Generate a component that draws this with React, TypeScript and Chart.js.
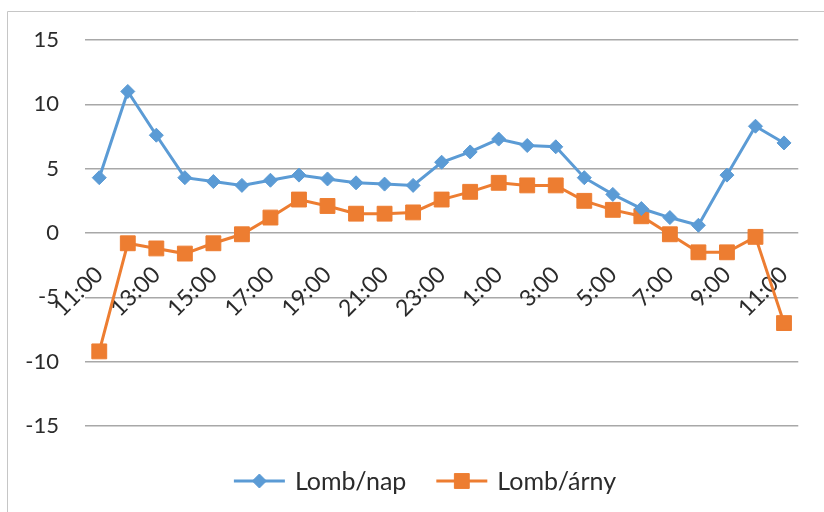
import React, { useEffect, useRef } from "react";
import { Chart, registerables } from "chart.js";

Chart.register(...registerables);

// Hourly readings, 11:00 through 11:00 the next day
const hours: string[] = [
  "11:00", "12:00", "13:00", "14:00", "15:00", "16:00", "17:00", "18:00",
  "19:00", "20:00", "21:00", "22:00", "23:00", "0:00", "1:00", "2:00",
  "3:00", "4:00", "5:00", "6:00", "7:00", "8:00", "9:00", "10:00", "11:00",
];

const lombNap: number[] = [
  4.3, 11.0, 7.6, 4.3, 4.0, 3.7, 4.1, 4.5, 4.2, 3.9, 3.8, 3.7, 5.5,
  6.3, 7.3, 6.8, 6.7, 4.3, 3.0, 1.9, 1.2, 0.6, 4.5, 8.3, 7.0,
];

const lombArny: number[] = [
  -9.2, -0.8, -1.2, -1.6, -0.8, -0.1, 1.2, 2.6, 2.1, 1.5, 1.5, 1.6, 2.6,
  3.2, 3.9, 3.7, 3.7, 2.5, 1.8, 1.3, -0.1, -1.5, -1.5, -0.3, -7.0,
];

const yTicks: number[] = [-15, -10, -5, 0, 5, 10, 15];

const FONT = "Lato, 'Open Sans', sans-serif";
const TEXT = "#2b2b2b";

// Outer frame of the chart
const framePlugin = {
  id: "frame",
  beforeDraw(chart: any) {
    const { ctx } = chart;
    ctx.save();
    ctx.fillStyle = "#ffffff";
    ctx.fillRect(0, 0, chart.width, chart.height);
    ctx.strokeStyle = "#c6c6c6";
    ctx.lineWidth = 1;
    ctx.beginPath();
    ctx.moveTo(7.5, chart.height + 2);
    ctx.lineTo(7.5, 11.5);
    ctx.lineTo(chart.width + 2, 11.5);
    ctx.stroke();
    ctx.restore();
  },
};

function drawMarker(ctx: CanvasRenderingContext2D, style: string, r: number, x: number, y: number) {
  ctx.beginPath();
  if (style === "rectRot") {
    ctx.moveTo(x, y - r);
    ctx.lineTo(x + r, y);
    ctx.lineTo(x, y + r);
    ctx.lineTo(x - r, y);
  } else {
    const s = Math.SQRT1_2 * r;
    ctx.rect(x - s, y - s, 2 * s, 2 * s);
  }
  ctx.closePath();
  ctx.fill();
  ctx.stroke();
}

// Legend: line sample with the series marker, then the label
const lineLegendPlugin = {
  id: "lineLegend",
  afterDraw(chart: any) {
    const { ctx } = chart;
    const sample = 51;
    const gapAfterSample = 10;
    const gapBetween = 30;
    ctx.save();
    ctx.font = `25px ${FONT}`;
    ctx.textBaseline = "middle";
    const items = chart.data.datasets.map((ds: any) => ({
      ds,
      w: sample + gapAfterSample + ctx.measureText(ds.label).width,
    }));
    const total =
      items.reduce((s: number, it: any) => s + it.w, 0) +
      gapBetween * (items.length - 1);
    let x = 425 - total / 2;
    const y = 481;
    items.forEach((it: any) => {
      const ds = it.ds;
      ctx.strokeStyle = ds.borderColor;
      ctx.lineWidth = 3;
      ctx.beginPath();
      ctx.moveTo(x, y);
      ctx.lineTo(x + sample, y);
      ctx.stroke();
      ctx.fillStyle = ds.pointBackgroundColor;
      ctx.strokeStyle = ds.pointBorderColor;
      ctx.lineWidth = 1;
      drawMarker(ctx, ds.pointStyle, ds.pointRadius, x + sample / 2, y);
      ctx.fillStyle = TEXT;
      ctx.fillText(ds.label, x + sample + gapAfterSample, y + 1);
      x += it.w + gapBetween;
    });
    ctx.restore();
  },
};

export default function App() {
  const canvasRef = useRef<HTMLCanvasElement | null>(null);

  useEffect(() => {
    document.body.style.margin = "0";
    const canvas = canvasRef.current;
    if (!canvas) return;

    const chart = new Chart(canvas, {
      type: "line",
      data: {
        labels: hours,
        datasets: [
          {
            label: "Lomb/nap",
            data: lombNap,
            borderColor: "#5b9bd5",
            backgroundColor: "#5b9bd5",
            pointBackgroundColor: "#5b9bd5",
            pointBorderColor: "#5b9bd5",
            borderWidth: 3,
            pointStyle: "rectRot",
            pointRadius: 7,
            pointBorderWidth: 1,
            tension: 0,
          },
          {
            label: "Lomb/árny",
            data: lombArny,
            borderColor: "#ed7d31",
            backgroundColor: "#ed7d31",
            pointBackgroundColor: "#ed7d31",
            pointBorderColor: "#ed7d31",
            borderWidth: 3,
            pointStyle: "rect",
            pointRadius: 10.5,
            pointBorderWidth: 1,
            tension: 0,
          },
        ],
      },
      options: {
        responsive: false,
        animation: false,
        layout: { padding: { top: 40, right: 24, bottom: 86, left: 0 } },
        plugins: {
          legend: { display: false },
          tooltip: { enabled: false },
        },
        scales: {
          x: {
            type: "category",
            position: { y: 0 } as any,
            offset: true,
            grid: { display: false },
            border: { display: false },
            ticks: {
              autoSkip: false,
              minRotation: 45,
              maxRotation: 45,
              padding: 20,
              color: TEXT,
              font: { family: FONT, size: 23 },
              callback: (_v: any, i: number) => (i % 2 === 0 ? hours[i] : ""),
            },
          },
          y: {
            min: yTicks[0],
            max: yTicks[yTicks.length - 1],
            afterBuildTicks: (scale: any) => {
              scale.ticks = yTicks.map((v) => ({ value: v }));
            },
            afterFit: (scale: any) => {
              scale.width = 85;
            },
            grid: {
              color: "#a8a8a8",
              lineWidth: 1.4,
              drawTicks: false,
            },
            border: { display: false },
            ticks: {
              padding: 26,
              color: TEXT,
              font: { family: FONT, size: 22 },
            },
          },
        },
      },
      plugins: [framePlugin, lineLegendPlugin],
    });

    return () => chart.destroy();
  }, []);

  return (
    <div style={{ width: 824, height: 512 }}>
      <canvas ref={canvasRef} width={824} height={512} />
    </div>
  );
}
